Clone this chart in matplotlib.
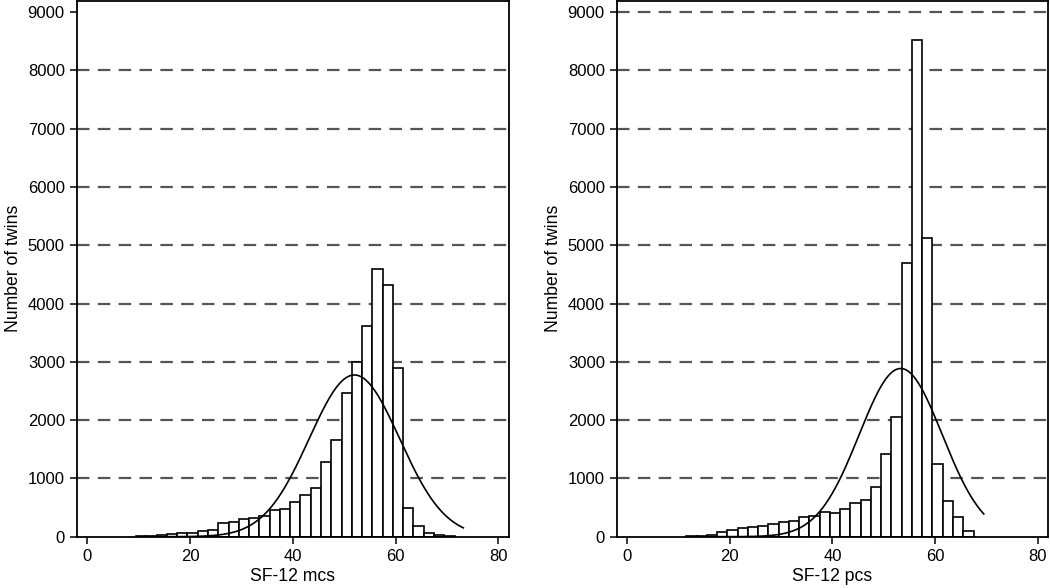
import numpy as np
import matplotlib
matplotlib.use("Agg")
import matplotlib.pyplot as plt

plt.rcParams['font.family'] = ['Liberation Sans', 'DejaVu Sans']
plt.rcParams['lines.scale_dashes'] = False

# bin centres (bin width 2)
mcs_mid = [10.5, 12.5, 14.5, 16.5, 18.5, 20.5, 22.5, 24.5, 26.5, 28.5,
           30.5, 32.5, 34.5, 36.5, 38.5, 40.5, 42.5, 44.5, 46.5, 48.5,
           50.5, 52.5, 54.5, 56.5, 58.5, 60.5, 62.5, 64.5, 66.5, 68.5, 70.5]
mcs_count = [5, 17, 25, 42, 70, 72, 104, 116, 228, 252,
             297, 326, 360, 450, 470, 589, 712, 843, 1277, 1657,
             2457, 3000, 3623, 4600, 4314, 2890, 486, 189, 72, 29, 5]

pcs_mid = [12.5, 14.5, 16.5, 18.5, 20.5, 22.5, 24.5, 26.5, 28.5,
           30.5, 32.5, 34.5, 36.5, 38.5, 40.5, 42.5, 44.5, 46.5, 48.5,
           50.5, 52.5, 54.5, 56.5, 58.5, 60.5, 62.5, 64.5, 66.5]
pcs_count = [5, 17, 30, 74, 114, 154, 171, 183, 211,
             260, 278, 340, 362, 425, 402, 477, 571, 630, 855,
             1418, 2056, 4688, 8522, 5126, 1242, 606, 337, 100]

# fitted normal curves: mean, sd, peak height, x range
mcs_fit = dict(mean=52.0, sd=8.8, peak=2775, lo=10, hi=73.2)
pcs_fit = dict(mean=53.3, sd=8.1, peak=2886, lo=12, hi=69.5)

x_ticks = [0, 20, 40, 60, 80]
y_ticks = [0, 1000, 2000, 3000, 4000, 5000, 6000, 7000, 8000, 9000]

fig = plt.figure(figsize=(10.5, 5.88), dpi=100)
ax1 = fig.add_axes([0.0730, 0.0872, 0.4117, 0.9111])
ax2 = fig.add_axes([0.5873, 0.0872, 0.4111, 0.9111])


def draw(ax, mid, count, fit, xlabel, grid_vals):
    for g in grid_vals:
        ax.axhline(g, color='#555555', lw=1.6, dashes=(9, 6), zorder=1)
    ax.bar(mid, count, width=2, color='white', edgecolor='black',
           linewidth=1.2, zorder=2)
    xs = np.linspace(fit['lo'], fit['hi'], 300)
    ys = fit['peak'] * np.exp(-(xs - fit['mean']) ** 2 / (2 * fit['sd'] ** 2))
    ax.plot(xs, ys, color='black', lw=1.2, zorder=3)
    ax.set_xlim(-2.07, 82.08)
    ax.set_ylim(0, 9190)
    ax.set_xticks(x_ticks)
    ax.set_yticks(y_ticks)
    ax.tick_params(direction='out', length=5, width=1.1, labelsize=12,
                   color='black', pad=3.5)
    for s in ax.spines.values():
        s.set_linewidth(1.3)
        s.set_color('black')
    ax.set_xlabel(xlabel, fontsize=12.7, labelpad=3)
    ax.set_ylabel('Number of twins', fontsize=12.7, labelpad=4)


draw(ax1, mcs_mid, mcs_count, mcs_fit, 'SF-12 mcs', y_ticks[1:-1])
draw(ax2, pcs_mid, pcs_count, pcs_fit, 'SF-12 pcs', y_ticks[1:])

fig.savefig('out.png', dpi=100)
